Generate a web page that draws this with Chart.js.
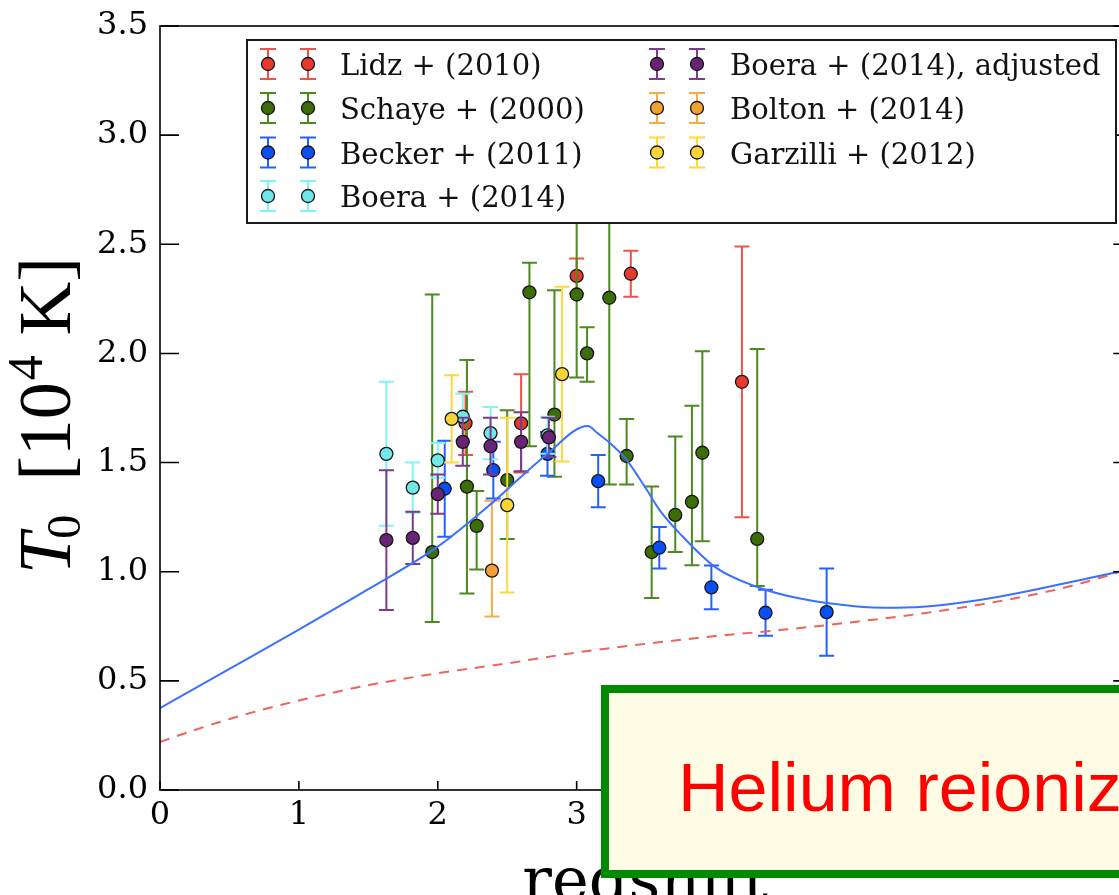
<!DOCTYPE html>
<html>
<head>
<meta charset="utf-8">
<script src="https://cdn.jsdelivr.net/npm/chart.js@4.4.1/dist/chart.umd.min.js"></script>
<style>
  html, body { margin: 0; padding: 0; background: #fff; overflow: hidden; }
  #wrap { position: relative; width: 1119px; height: 895px; overflow: hidden; }
  #plot { position: absolute; left: 0; top: 0; }
  #note {
    position: absolute; left: 601px; top: 685px; width: 640px; height: 193px;
    box-sizing: border-box; border: 8px solid #008a00; background: #fffde6;
  }
  #note span {
    position: absolute; left: 69px; top: 55px; white-space: nowrap;
    font-family: 'Liberation Sans', Arial, sans-serif; font-size: 68px; color: #ff0000;
    transform: scaleX(1.03); transform-origin: left center;
  }
</style>
</head>
<body>
<div id="wrap">
  <canvas id="plot" width="1140" height="920"></canvas>
  <div id="note"><span>Helium reionization</span></div>
</div>
<script>
// axis ticks
const zTicks = [0, 1, 2, 3, 4, 5, 6, 7];
const tTicks = [0, 0.5, 1.0, 1.5, 2.0, 2.5, 3.0, 3.5];
const tTickLabels = ['0.0', '0.5', '1.0', '1.5', '2.0', '2.5', '3.0', '3.5'];

// Lidz + (2010)
const lidzZ = [2.20, 2.60, 3.00, 3.39, 4.19];
const lidzT = [1.68, 1.68, 2.355, 2.365, 1.87];
const lidzErr = [0.145, 0.225, 0.08, 0.105, 0.62];

// Schaye + (2000), asymmetric errors
const schayeZ = [1.96, 2.21, 2.28, 2.50, 2.66, 2.84, 3.00, 3.075, 3.235, 3.36, 3.54, 3.71, 3.83, 3.905, 4.30];
const schayeT = [1.09, 1.39, 1.21, 1.42, 2.28, 1.72, 2.27, 2.00, 2.255, 1.53, 1.09, 1.26, 1.32, 1.545, 1.15];
const schayeUp = [1.18, 0.58, 0.16, 0.32, 0.135, 0.57, 0.38, 0.12, 0.86, 0.17, 0.30, 0.36, 0.44, 0.465, 0.87];
const schayeDown = [0.32, 0.49, 0.20, 0.27, 0.705, 0.285, 0.38, 0.13, 0.855, 0.13, 0.21, 0.17, 0.29, 0.405, 0.215];

// Becker + (2011)
const beckerZ = [2.05, 2.40, 2.79, 3.155, 3.595, 3.97, 4.36, 4.80];
const beckerT = [1.38, 1.465, 1.54, 1.415, 1.11, 0.928, 0.812, 0.815];
const beckerErr = [0.22, 0.13, 0.10, 0.12, 0.095, 0.10, 0.105, 0.20];

// Boera + (2014)
const boeraZ = [1.63, 1.82, 2.00, 2.18, 2.38, 2.79];
const boeraT = [1.54, 1.385, 1.51, 1.71, 1.635, 1.625];
const boeraErr = [0.33, 0.115, 0.08, 0.105, 0.12, 0.085];

// Boera + (2014), adjusted
const boeraAdjZ = [1.63, 1.82, 2.00, 2.18, 2.38, 2.60, 2.80];
const boeraAdjT = [1.145, 1.155, 1.355, 1.595, 1.575, 1.595, 1.615];
const boeraAdjErr = [0.32, 0.12, 0.09, 0.11, 0.13, 0.135, 0.09];

// Bolton + (2014)
const boltonZ = [2.39];
const boltonT = [1.005];
const boltonUp = [0.32];
const boltonDown = [0.21];

// Garzilli + (2012)
const garzilliZ = [2.10, 2.50, 2.895];
const garzilliT = [1.70, 1.305, 1.905];
const garzilliErr = [0.20, 0.40, 0.40];

// model with He II reionization (solid) and without it (dashed)
const modelZ = [0, 0.5, 1.0, 1.5, 2.0, 2.4, 2.78, 3.08, 3.15, 3.23, 3.35, 3.5, 3.6, 3.75, 4.0, 4.3, 4.6, 5.0, 5.3, 5.6, 5.9, 6.2, 6.5, 6.9, 7.0];
const modelT = [0.375, 0.555, 0.735, 0.92, 1.115, 1.32, 1.535, 1.667, 1.635, 1.595, 1.52, 1.38, 1.28, 1.17, 1.02, 0.93, 0.878, 0.842, 0.835, 0.845, 0.87, 0.905, 0.945, 1.0, 1.015];
const noHeZ = [0, 0.25, 0.5, 0.75, 1.0, 1.5, 2.0, 2.5, 3.0, 3.5, 4.0, 4.5, 5.0, 5.5, 6.0, 6.5, 7.0];
const noHeT = [0.22, 0.275, 0.325, 0.37, 0.41, 0.48, 0.535, 0.58, 0.63, 0.67, 0.705, 0.735, 0.77, 0.81, 0.86, 0.925, 1.015];

const SERIF = "'DejaVu Serif', serif";

function pts(xs, ys) {
  return xs.map((x, i) => ({ x: x, y: ys[i] }));
}

function obs(label, xs, ys, up, down, fill, bar, order) {
  return {
    type: 'scatter',
    label: label,
    data: pts(xs, ys),
    errUp: up,
    errDown: down,
    barColor: bar,
    order: order,
    pointRadius: 6.5,
    pointHoverRadius: 6.5,
    pointBackgroundColor: fill,
    pointBorderColor: '#151515',
    pointBorderWidth: 1.3
  };
}

const series = [
  obs('Lidz + (2010)', lidzZ, lidzT, lidzErr, lidzErr, '#e8392f', '#f05248', 7),
  obs('Schaye + (2000)', schayeZ, schayeT, schayeUp, schayeDown, '#3b6d08', '#4c8a1c', 6),
  obs('Becker + (2011)', beckerZ, beckerT, beckerErr, beckerErr, '#0a4ff5', '#2260ff', 5),
  obs('Boera + (2014)', boeraZ, boeraT, boeraErr, boeraErr, '#70e8ea', '#7ef6f6', 4),
  obs('Boera + (2014), adjusted', boeraAdjZ, boeraAdjT, boeraAdjErr, boeraAdjErr, '#6a2477', '#7c3a8c', 3),
  obs('Bolton + (2014)', boltonZ, boltonT, boltonUp, boltonDown, '#f0a035', '#f8ac48', 2),
  obs('Garzilli + (2012)', garzilliZ, garzilliT, garzilliErr, garzilliErr, '#f8d535', '#fdd83e', 1)
];

const lines = [
  {
    type: 'line', label: 'model', data: pts(modelZ, modelT), order: 0,
    borderColor: '#3a72ff', borderWidth: 2, pointRadius: 0,
    cubicInterpolationMode: 'monotone', fill: false
  },
  {
    type: 'line', label: 'no He II', data: pts(noHeZ, noHeT), order: 0,
    borderColor: '#f0625a', borderWidth: 2, borderDash: [10, 8], pointRadius: 0,
    cubicInterpolationMode: 'monotone', fill: false
  }
];

// vertical error bars, drawn just before each dataset's markers
const errorBars = {
  id: 'errorBars',
  beforeDatasetDraw(chart, args) {
    const ds = chart.data.datasets[args.index];
    if (!ds.errUp) return;
    const { ctx, chartArea: a } = chart;
    const y = chart.scales.y;
    ctx.save();
    ctx.beginPath();
    ctx.rect(a.left, a.top, a.right - a.left, a.bottom - a.top);
    ctx.clip();
    ctx.strokeStyle = ds.barColor;
    ctx.lineWidth = 2;
    args.meta.data.forEach((p, i) => {
      const v = ds.data[i].y;
      const top = y.getPixelForValue(v + ds.errUp[i]);
      const bot = y.getPixelForValue(v - ds.errDown[i]);
      ctx.beginPath();
      ctx.moveTo(p.x, top); ctx.lineTo(p.x, bot);
      ctx.moveTo(p.x - 7.5, top); ctx.lineTo(p.x + 7.5, top);
      ctx.moveTo(p.x - 7.5, bot); ctx.lineTo(p.x + 7.5, bot);
      ctx.stroke();
    });
    ctx.restore();
  }
};

// box around the axes with inward ticks on left, right and bottom
const frame = {
  id: 'frame',
  afterDatasetsDraw(chart) {
    const { ctx, chartArea: a, scales } = chart;
    ctx.save();
    ctx.strokeStyle = '#000';
    ctx.lineWidth = 1.6;
    ctx.strokeRect(a.left, a.top, a.right - a.left, a.bottom - a.top);
    ctx.beginPath();
    tTicks.forEach(v => {
      const py = scales.y.getPixelForValue(v);
      ctx.moveTo(a.left, py); ctx.lineTo(a.left + 19, py);
      ctx.moveTo(a.right, py); ctx.lineTo(a.right - 19, py);
    });
    zTicks.forEach(v => {
      const px = scales.x.getPixelForValue(v);
      ctx.moveTo(px, a.bottom); ctx.lineTo(px, a.bottom - 9);
    });
    ctx.stroke();
    ctx.restore();
  }
};

// legend with two errorbar markers per entry, two columns
const errLegend = {
  id: 'errLegend',
  afterDraw(chart) {
    const ctx = chart.ctx;
    ctx.save();
    ctx.fillStyle = '#fff';
    ctx.fillRect(247, 40, 869, 183);
    ctx.strokeStyle = '#1a1a1a';
    ctx.lineWidth = 2;
    ctx.strokeRect(247, 40, 869, 183);
    const rowsY = [64, 108, 152.5, 196];
    series.forEach((ds, i) => {
      const col = i < 4 ? 0 : 1;
      const cy = rowsY[col === 0 ? i : i - 4];
      const mx = col === 0 ? [268, 308] : [657, 697];
      const tx = col === 0 ? 340 : 730;
      mx.forEach(x => {
        ctx.strokeStyle = ds.barColor;
        ctx.lineWidth = 2;
        ctx.beginPath();
        ctx.moveTo(x, cy - 15); ctx.lineTo(x, cy + 15);
        ctx.moveTo(x - 8, cy - 15); ctx.lineTo(x + 8, cy - 15);
        ctx.moveTo(x - 8, cy + 15); ctx.lineTo(x + 8, cy + 15);
        ctx.stroke();
        ctx.beginPath();
        ctx.arc(x, cy, 6.5, 0, Math.PI * 2);
        ctx.fillStyle = ds.pointBackgroundColor;
        ctx.fill();
        ctx.lineWidth = 1.3;
        ctx.strokeStyle = '#151515';
        ctx.stroke();
      });
      ctx.fillStyle = '#111';
      ctx.font = '29px ' + SERIF;
      ctx.textBaseline = 'alphabetic';
      ctx.fillText(ds.label, tx, cy + 11);
    });
    ctx.restore();
  }
};

// axis titles: T_0 [10^4 K] rotated on the left, redshift below
const axisTitles = {
  id: 'axisTitles',
  afterDraw(chart) {
    const { ctx, chartArea: a } = chart;
    ctx.save();
    ctx.fillStyle = '#000';
    ctx.textBaseline = 'alphabetic';
    ctx.translate(70, 574);
    ctx.rotate(-Math.PI / 2);
    let x = 0;
    ctx.font = "italic 74px 'Liberation Serif', serif";
    ctx.fillText('T', x, 0);
    x += ctx.measureText('T').width - 6;
    ctx.font = "48px 'Liberation Serif', serif";
    ctx.fillText('0', x, 10);
    x += ctx.measureText('0').width + 34;
    ctx.font = "74px 'Liberation Serif', serif";
    ctx.fillText('[10', x, 0);
    x += ctx.measureText('[10').width;
    ctx.font = "50px 'Liberation Serif', serif";
    ctx.fillText('4', x + 2, -28);
    x += ctx.measureText('4').width + 22;
    ctx.font = "74px 'Liberation Serif', serif";
    ctx.fillText('K]', x, 0);
    ctx.restore();

    ctx.save();
    ctx.fillStyle = '#000';
    ctx.font = '62px ' + SERIF;
    ctx.textAlign = 'center';
    ctx.textBaseline = 'alphabetic';
    ctx.fillText('redshift', (a.left + a.right) / 2 - 1, 901);
    ctx.restore();
  }
};

new Chart(document.getElementById('plot').getContext('2d'), {
  data: { datasets: lines.concat(series) },
  options: {
    responsive: false,
    animation: false,
    events: [],
    layout: { padding: { left: 0, top: 26, right: 4, bottom: 0 } },
    plugins: { legend: { display: false }, tooltip: { enabled: false } },
    scales: {
      x: {
        type: 'linear', min: 0, max: 7,
        afterFit: s => { s.height = 130; s.paddingLeft = 0; s.paddingRight = 0; },
        grid: { display: false, drawTicks: false },
        border: { display: false },
        afterBuildTicks: s => { s.ticks = zTicks.map(v => ({ value: v })); },
        ticks: { color: '#000', padding: 6, font: { family: SERIF, size: 32 }, maxRotation: 0 }
      },
      y: {
        type: 'linear', min: 0, max: 3.5,
        afterFit: s => { s.width = 160; s.paddingTop = 0; s.paddingBottom = 0; },
        grid: { display: false, drawTicks: false },
        border: { display: false },
        afterBuildTicks: s => { s.ticks = tTicks.map(v => ({ value: v })); },
        ticks: {
          color: '#000', padding: 12, font: { family: SERIF, size: 32 },
          callback: v => tTickLabels[tTicks.indexOf(v)]
        }
      }
    }
  },
  plugins: [errorBars, frame, errLegend, axisTitles]
});
</script>
</body>
</html>
